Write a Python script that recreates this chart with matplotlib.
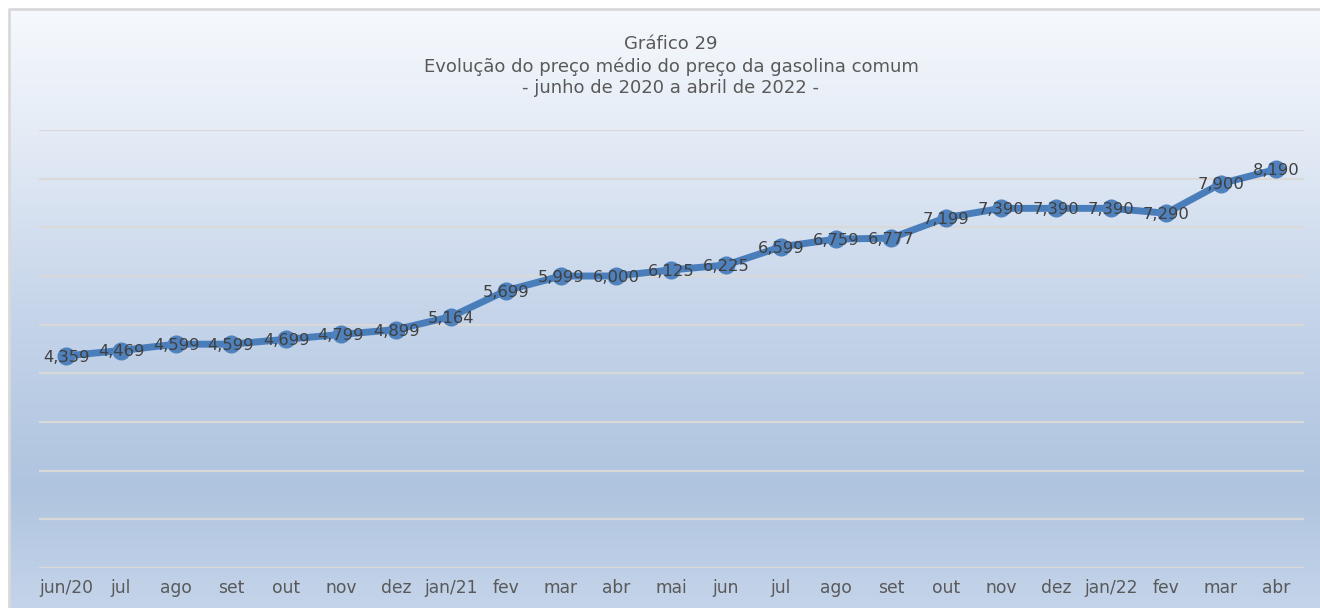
import numpy as np
import matplotlib.pyplot as plt
from matplotlib.colors import LinearSegmentedColormap

meses = ['jun/20', 'jul', 'ago', 'set', 'out', 'nov', 'dez', 'jan/21', 'fev', 'mar',
         'abr', 'mai', 'jun', 'jul', 'ago', 'set', 'out', 'nov', 'dez', 'jan/22',
         'fev', 'mar', 'abr']
precos = [4.359, 4.469, 4.599, 4.599, 4.699, 4.799, 4.899, 5.164, 5.699, 5.999,
          6.000, 6.125, 6.225, 6.599, 6.759, 6.777, 7.199, 7.390, 7.390, 7.390,
          7.290, 7.900, 8.190]

W, H = 1320, 608
fig = plt.figure(figsize=(W / 100, H / 100), dpi=100)
fig.patch.set_facecolor('white')

# background gradient, light on top, bluish lower down
bg = fig.add_axes([9 / W, 0, 1 - 9 / W, 1 - 9 / H])
bg.set_axis_off()
cmap = LinearSegmentedColormap.from_list('fundo', [
    (0.0, '#f6f9fd'), (0.2, '#e5ecf6'), (0.5, '#c6d5ea'),
    (0.8, '#afc4df'), (1.0, '#c4d4ea')])
grad = np.linspace(0, 1, 256).reshape(-1, 1)
bg.imshow(grad, aspect='auto', cmap=cmap, extent=[0, 1, 0, 1], origin='upper')
bg.set_xlim(0, 1)
bg.set_ylim(0, 1)
bg.plot([0, 0, 1], [0, 1, 1], color='#d9d9d9', lw=2, clip_on=False)

ax = fig.add_axes([38.5 / W, 40 / H, (1303.5 - 38.5) / W, (568 - 130) / H])
ax.patch.set_alpha(0)
x = np.arange(len(meses))
ax.set_xlim(-0.5, len(meses) - 0.5)
ax.set_ylim(0, 9)
for v in range(0, 10):
    ax.axhline(v, color='#d9d9d9', lw=1.6, zorder=1)
ax.plot(x, precos, color='#4a7ebb', lw=5, marker='o', ms=12,
        markerfacecolor='#4f81bd', markeredgecolor='#4f81bd', zorder=3,
        solid_capstyle='round')
for xi, p in zip(x, precos):
    ax.text(xi, p - 0.03, f'{p:.3f}'.replace('.', ','), ha='center', va='center',
            fontsize=11.8, color='#404040', zorder=4)

ax.set_xticks(x)
ax.set_xticklabels(meses, fontsize=12.3, color='#595959')
ax.set_yticks([])
ax.tick_params(axis='x', length=0, pad=8)
for s in ax.spines.values():
    s.set_visible(False)

titulo = ['Gráfico 29',
          'Evolução do preço médio do preço da gasolina comum',
          '- junho de 2020 a abril de 2022 -']
for linha, ypx in zip(titulo, [44, 67, 88]):
    fig.text(671 / W, 1 - ypx / H, linha, ha='center', va='center',
             fontsize=13, color='#595959')

fig.savefig('out.png', dpi=100)
